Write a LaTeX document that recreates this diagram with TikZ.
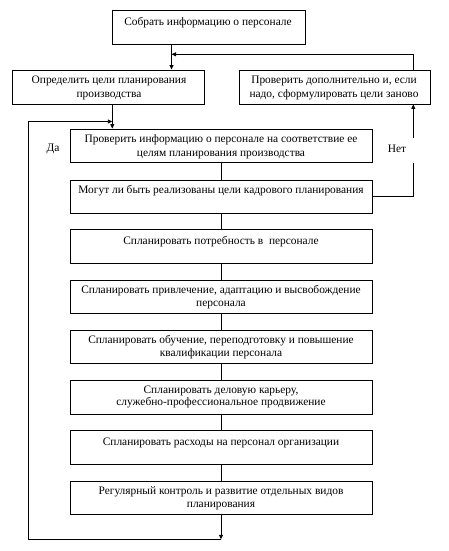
\documentclass[tikz,border=0pt]{standalone}
\usepackage{fontspec}
\setmainfont{Liberation Serif}
\usetikzlibrary{arrows.meta,fit}
\begin{document}
\begin{tikzpicture}[x=1pt,y=-1pt,
  box/.style={draw, line width=0.9pt, inner sep=0pt},
  txt/.style={align=center, inner sep=0pt, font=\fontsize{11.4}{14}\selectfont},
  txtb/.style={align=center, inner sep=0pt, font=\fontsize{11.4}{12.7}\selectfont},
  conn/.style={line width=0.9pt},
  arr/.style={conn, -{Triangle[length=4.5pt,width=4pt]}}]
\fill[white] (0,0) rectangle (449,551);
\useasboundingbox (0,0) rectangle (449,551);
% boxes
\node[box, fit={(112,10) (305,44)}] (b1) {};
\node[box, fit={(12,70) (204,104)}] (b2) {};
\node[box, fit={(239,70) (430,104)}] (b3) {};
\node[box, fit={(70,129) (372,162)}] (b4) {};
\node[box, fit={(70,180) (372,213)}] (b5) {};
\node[box, fit={(70,229) (372,263)}] (b6) {};
\node[box, fit={(70,280) (372,313)}] (b7) {};
\node[box, fit={(70,330) (372,363)}] (b8) {};
\node[box, fit={(70,380) (372,414)}] (b9) {};
\node[box, fit={(70,430) (372,464)}] (b10) {};
\node[box, fit={(70,481) (372,514)}] (b11) {};
% texts
\node[txt] (t1) at (208,23) {Собрать информацию о персонале};
\node[txt] (t2) at (109,88) {Определить цели планирования\\производства};
\node[txt] (t3) at (334,88) {Проверить дополнительно и, если\\надо, сформулировать цели заново};
\node[txt] (t4) at (221,146.3) {Проверить информацию о персонале на соответствие ее\\целям планирования производства};
\node[txt] (t5) at (221,191) {Могут ли быть реализованы цели кадрового планирования};
\node[txt] (t6) at (221,242) {Спланировать потребность в\ \ персонале};
\node[txtb] (t7) at (221,297) {Спланировать привлечение, адаптацию и высвобождение\\персонала};
\node[txtb] (t8) at (221,347) {Спланировать обучение, переподготовку и повышение\\квалификации персонала};
\node[txtb] (t9) at (221,397) {Спланировать деловую карьеру,\\служебно-профессиональное продвижение};
\node[txtb] (t10) at (221,442.7) {Спланировать расходы на персонал организации};
\node[txtb] (t11) at (221,498) {Регулярный контроль и развитие отдельных видов\\планирования};
\node[txt] (da) at (53,149) {Да};
\node[txt] (net) at (397,149) {Нет};
% coordinates
\coordinate (xa) at (171.5,0);
\coordinate (xb) at (413.3,0);
\coordinate (xc) at (112.3,0);
\coordinate (ja) at (171.5,54.3);
\coordinate (jb) at (112.3,121.5);
\coordinate (lb) at (221,539.3);
\coordinate (ll) at (28.7,539.3);
\coordinate (lt) at (28.7,121.5);
\coordinate (n2) at (413.3,163.3);
\coordinate (n3) at (413.3,137.7);
% connectors
\draw[arr] (b1.south -| xa) -- (b2.north -| xa);
\draw[arr] (b3.north -| xb) |- (ja);
\draw[arr] (b2.south -| xc) -- (b4.north -| xc);
\draw[conn] (b4.south) -- (b5.north);
\draw[conn] (b5.south) -- (b6.north);
\draw[conn] (b6.south) -- (b7.north);
\draw[conn] (b7.south) -- (b8.north);
\draw[conn] (b8.south) -- (b9.north);
\draw[conn] (b9.south) -- (b10.north);
\draw[conn] (b10.south) -- (b11.north);
\draw[arr] (b11.south) -- (lb);
\draw[arr] (lb) -- (ll) -- (lt) -- (jb);
\draw[conn] (b5.east) -- (b5.east -| xb) -- (n2);
\draw[arr] (n3) -- (b3.south -| xb);
\end{tikzpicture}
\end{document}
